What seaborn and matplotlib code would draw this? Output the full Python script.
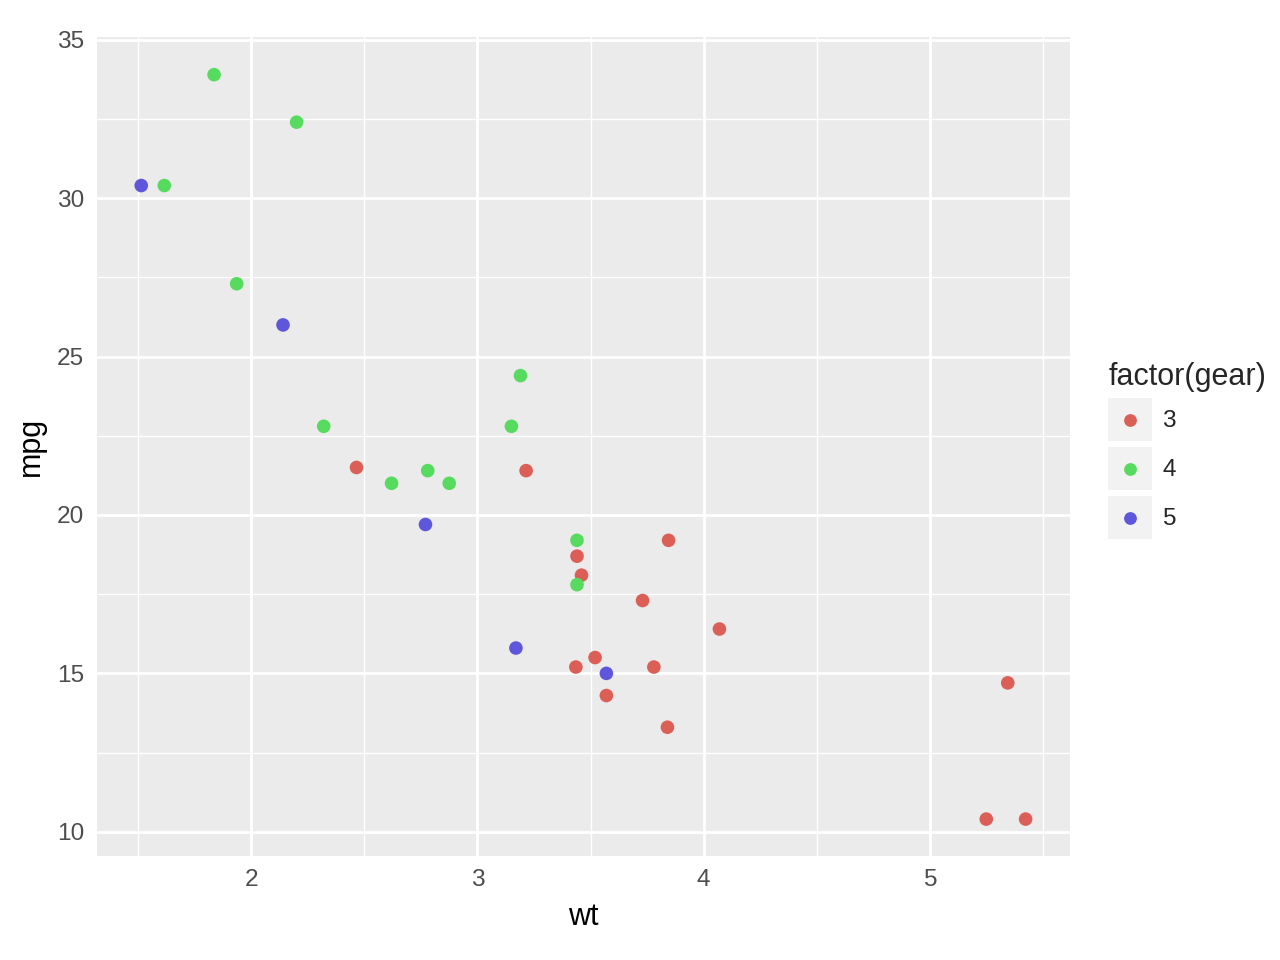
import matplotlib
matplotlib.use("Agg")
import matplotlib.pyplot as plt
from matplotlib.patches import Rectangle
from matplotlib.lines import Line2D
from matplotlib.legend_handler import HandlerBase
import numpy as np
import pandas as pd
import seaborn as sns

# ── Data: mtcars (wt, mpg, gear) ──
wt = [2.620, 2.875, 2.320, 3.215, 3.440, 3.460, 3.570, 3.190, 3.150, 3.440,
      3.440, 4.070, 3.730, 3.780, 5.250, 5.424, 5.345, 2.200, 1.615, 1.835,
      2.465, 3.520, 3.435, 3.840, 3.845, 1.935, 2.140, 1.513, 3.170, 2.770,
      3.570, 2.780]
mpg = [21.0, 21.0, 22.8, 21.4, 18.7, 18.1, 14.3, 24.4, 22.8, 19.2,
       17.8, 16.4, 17.3, 15.2, 10.4, 10.4, 14.7, 32.4, 30.4, 33.9,
       21.5, 15.5, 15.2, 13.3, 19.2, 27.3, 26.0, 30.4, 15.8, 19.7,
       15.0, 21.4]
gear = [4, 4, 4, 3, 3, 3, 3, 4, 4, 4,
        4, 3, 3, 3, 3, 3, 3, 4, 4, 4,
        3, 3, 3, 3, 3, 4, 5, 5, 5, 5,
        5, 4]
levels = ["3", "4", "5"]
palette = ["#db5f57", "#57db5f", "#5f57db"]

df = pd.DataFrame({"wt": wt, "mpg": mpg, "gear": [str(g) for g in gear]})


# ── Legend key: grey square with a centred dot (ggplot style) ──
class KeyHandler(HandlerBase):
    def create_artists(self, legend, orig_handle, xdescent, ydescent,
                       width, height, fontsize, trans):
        box = Rectangle((-xdescent, -ydescent), width, height,
                        facecolor="#f2f2f2", edgecolor="none", transform=trans)
        dot = Line2D([width / 2 - xdescent], [height / 2 - ydescent],
                     marker="o", linestyle="none", markersize=4.6,
                     markerfacecolor=orig_handle.get_markerfacecolor(),
                     markeredgewidth=0, transform=trans)
        return [box, dot]


sns.set_style("white")
plt.rcParams["font.family"] = ["Liberation Sans", "DejaVu Sans"]

fig = plt.figure(figsize=(6.4, 4.8), dpi=200)
ax = fig.add_axes([0.0758, 0.108, 0.760, 0.853])
ax.set_facecolor("#ebebeb")

sns.scatterplot(data=df, x="wt", y="mpg", hue="gear", hue_order=levels,
                palette=palette, s=24, linewidth=0, legend=False, ax=ax, zorder=3)

# ggplot-style 5% expansion
xr = max(wt) - min(wt)
yr = max(mpg) - min(mpg)
ax.set_xlim(min(wt) - 0.05 * xr, max(wt) + 0.05 * xr)
ax.set_ylim(min(mpg) - 0.05 * yr, max(mpg) + 0.05 * yr)

ax.set_xticks([2, 3, 4, 5])
ax.set_yticks([10, 15, 20, 25, 30, 35])
ax.set_xticks([1.5, 2.5, 3.5, 4.5, 5.5], minor=True)
ax.set_yticks([12.5, 17.5, 22.5, 27.5, 32.5], minor=True)
ax.grid(which="major", color="white", linewidth=1.0)
ax.grid(which="minor", color="white", linewidth=0.5)
ax.set_axisbelow(True)
for s in ax.spines.values():
    s.set_visible(False)

ax.tick_params(which="major", length=2.6, width=0.9, color="#333333",
               labelcolor="#4d4d4d", labelsize=8.8, pad=2)
ax.tick_params(which="minor", length=0)
ax.set_xlabel("wt", fontsize=11, color="black", labelpad=4)
ax.set_ylabel("mpg", fontsize=11, color="black", labelpad=4)

handles = [Line2D([], [], marker="o", linestyle="none", markerfacecolor=c)
           for c in palette]
leg = fig.legend(handles, levels, title="factor(gear)",
                 handler_map={Line2D: KeyHandler()},
                 loc="upper left", bbox_to_anchor=(0.866, 0.623),
                 frameon=False, fontsize=8.8, title_fontsize=11,
                 handlelength=1.76, handleheight=2.33, handletextpad=0.45,
                 labelspacing=0.25, borderpad=0, borderaxespad=0,
                 alignment="left")

fig.savefig("out.png", dpi=200, facecolor="white")
